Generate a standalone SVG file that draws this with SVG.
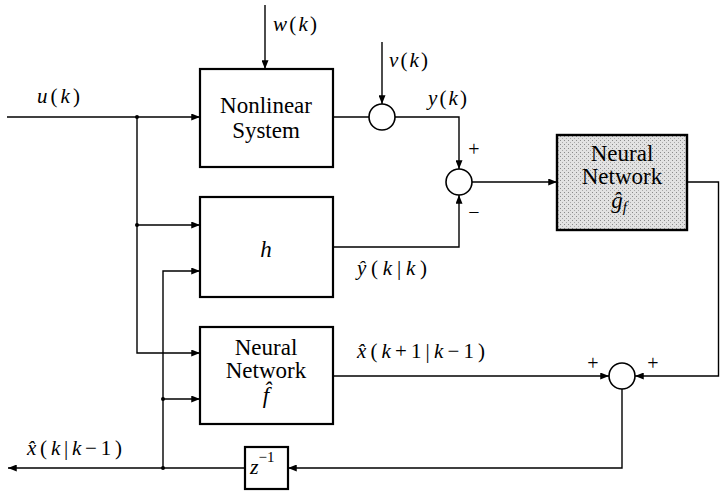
<svg xmlns="http://www.w3.org/2000/svg" width="720" height="491" viewBox="0 0 720 491">
<defs>
<marker id="ah" viewBox="0 0 10 8" refX="10" refY="4" markerWidth="9" markerHeight="7" markerUnits="userSpaceOnUse" orient="auto">
<path d="M0,0 L10,4 L0,8 z" fill="#000"/>
</marker>
<pattern id="stip" width="4" height="4" patternUnits="userSpaceOnUse">
<rect width="4" height="4" fill="#e2e2e2"/>
<rect x="0" y="0" width="1" height="1" fill="#8a8a8a"/>
<rect x="2" y="2" width="1" height="1" fill="#a8a8a8"/>
</pattern>
</defs>
<style>
.box{fill:#fff;stroke:#000;stroke-width:2.2}
.sum{fill:#fff;stroke:#000;stroke-width:1.6}
.ln{fill:none;stroke:#000;stroke-width:1.4}
.arr{fill:none;stroke:#000;stroke-width:1.4;marker-end:url(#ah)}
text{font-family:"Liberation Serif",Tinos,"Noto Serif","DejaVu Serif",Times,Georgia,serif;fill:#000}
.t{font-size:23px;text-anchor:middle}
.m{font-size:21px}
.i{font-style:italic}
.s{font-size:20px;text-anchor:middle}
</style>
<rect width="720" height="491" fill="#fff"/>

<g id="connectors">
<line class="arr" x1="7" y1="117" x2="200" y2="117"/>
<line class="arr" x1="265" y1="5" x2="265" y2="69"/>
<line class="arr" x1="382" y1="42" x2="382" y2="104"/>
<line class="ln" x1="333" y1="117" x2="369" y2="117"/>
<polyline class="arr" points="395,117 459,117 459,169"/>
<polyline class="arr" points="333,247 459,247 459,195"/>
<line class="arr" x1="472" y1="182" x2="557" y2="182"/>
<polyline class="arr" points="687,182 718.5,182 718.5,376 635,376"/>
<line class="arr" x1="333" y1="376" x2="609" y2="376"/>
<polyline class="arr" points="622,389 622,468 288,468"/>
<line class="arr" x1="245" y1="468" x2="8" y2="468"/>
<polyline class="arr" points="137,117 137,353 200,353"/>
<line class="arr" x1="137" y1="225" x2="200" y2="225"/>
<polyline class="arr" points="163,468 163,271 200,271"/>
<line class="arr" x1="163" y1="399" x2="200" y2="399"/>
<circle cx="137" cy="117" r="2" fill="#000"/>
<circle cx="137" cy="225" r="2" fill="#000"/>
<circle cx="163" cy="399" r="2" fill="#000"/>
<circle cx="163" cy="468" r="2" fill="#000"/>
</g>

<g id="nonlinear-system">
<rect class="box" x="200" y="69" width="133" height="98"/>
<text class="t" x="266" y="113">Nonlinear</text>
<text class="t" x="266" y="138">System</text>
</g>

<g id="h-block">
<rect class="box" x="200" y="197" width="133" height="100"/>
<text class="t i" x="266" y="257">h</text>
</g>

<g id="nn-f">
<rect class="box" x="200" y="327" width="133" height="97"/>
<text class="t" x="266" y="355">Neural</text>
<text class="t" x="266" y="378">Network</text>
<text class="t i" x="266" y="403">f̂</text>
</g>

<g id="nn-g">
<rect x="557" y="135" width="130" height="95" fill="url(#stip)" stroke="#000" stroke-width="2.4"/>
<text class="t" x="622" y="161">Neural</text>
<text class="t" x="622" y="184">Network</text>
<text class="t" x="619" y="208"><tspan class="i">ĝ</tspan><tspan font-size="15" dy="4" class="i">f</tspan></text>
</g>

<g id="z-delay">
<rect class="box" x="245" y="447" width="43" height="42"/>
<text x="250" y="474" font-size="22"><tspan class="i">z</tspan><tspan font-size="15" dy="-12">−1</tspan></text>
</g>

<g id="sum-v">
<circle class="sum" cx="382" cy="117" r="13"/>
</g>
<g id="sum-y">
<circle class="sum" cx="459" cy="182" r="13"/>
<text class="s" x="474" y="156">+</text>
<text class="s" x="474" y="219">−</text>
</g>
<g id="sum-x">
<circle class="sum" cx="622" cy="376" r="13"/>
<text class="s" x="593" y="370">+</text>
<text class="s" x="653" y="370">+</text>
</g>

<g id="labels">
<text class="m" x="37" y="103" textLength="43"><tspan class="i">u</tspan>(<tspan class="i">k</tspan>)</text>
<text class="m" x="273" y="31" textLength="44"><tspan class="i">w</tspan>(<tspan class="i">k</tspan>)</text>
<text class="m" x="389" y="67" textLength="39"><tspan class="i">v</tspan>(<tspan class="i">k</tspan>)</text>
<text class="m" x="428" y="105" textLength="39"><tspan class="i">y</tspan>(<tspan class="i">k</tspan>)</text>
<text class="m" x="357" y="275" textLength="70"><tspan class="i">ŷ</tspan>(<tspan class="i">k</tspan>|<tspan class="i">k</tspan>)</text>
<text class="m" x="357" y="358" textLength="128"><tspan class="i">x̂</tspan>(<tspan class="i">k</tspan>+1|<tspan class="i">k</tspan>−1)</text>
<text class="m" x="27" y="455" textLength="95"><tspan class="i">x̂</tspan>(<tspan class="i">k</tspan>|<tspan class="i">k</tspan>−1)</text>
</g>
</svg>
